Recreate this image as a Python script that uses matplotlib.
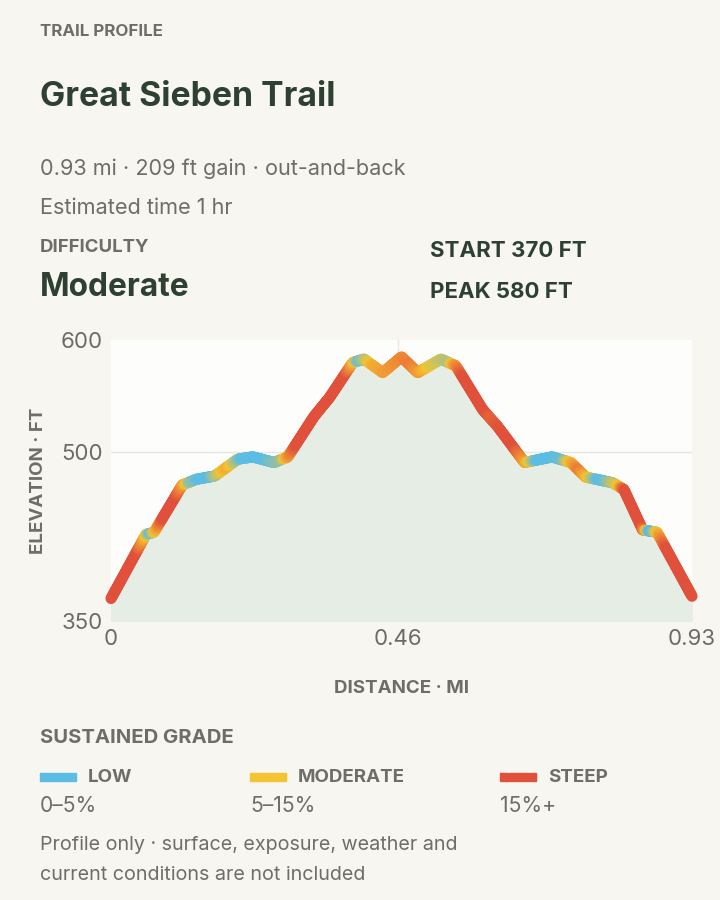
import numpy as np
import matplotlib
matplotlib.use("Agg")
import matplotlib.pyplot as plt
from matplotlib.collections import LineCollection
from matplotlib.colors import LinearSegmentedColormap
from matplotlib.patches import Rectangle

plt.rcParams['font.family'] = ['Inter', 'DejaVu Sans']

dist_mi = [0.0, 0.056, 0.069, 0.114, 0.136, 0.166, 0.203, 0.227, 0.261, 0.283, 0.325,
           0.350, 0.387, 0.405, 0.435, 0.465, 0.491, 0.528, 0.552, 0.595, 0.619, 0.662,
           0.706, 0.736, 0.760, 0.803, 0.821, 0.851, 0.874, 0.93]
elev_ft = [370, 427, 429, 471, 476, 479, 494, 496, 491, 496, 532,
           549, 580, 583, 571, 585, 571, 583, 577, 538, 523, 491,
           496, 491, 478, 473, 467, 431, 429, 372]
yticks = [350, 500, 600]
xticks = [0, 0.46, 0.93]
xtick_labels = ["0", "0.46", "0.93"]
legend_names = ["LOW", "MODERATE", "STEEP"]
legend_ranges = ["0–5%", "5–15%", "15%+"]
legend_colors = ["#5bbde3", "#f4c430", "#e0503a"]

BG = "#f7f6f1"
DARK = "#2d4031"
GRAY = "#6e6e68"

fig = plt.figure(figsize=(7.2, 9), dpi=100, facecolor=BG)

def T(x, y, s, **kw):
    fig.text(x / 720, 1 - y / 900, s, va="center", ha="left", **kw)

T(40, 31, "TRAIL PROFILE", fontsize=12.2, fontweight="bold", color=GRAY)
T(40, 97, "Great Sieben Trail", fontsize=24.3, fontweight="bold", color=DARK)
T(40, 169, "0.93 mi · 209 ft gain · out-and-back", fontsize=15.6, color=GRAY)
T(40, 208, "Estimated time 1 hr", fontsize=15.6, color=GRAY)
T(40, 248, "DIFFICULTY", fontsize=13.4, fontweight="bold", color=GRAY)
T(40, 288, "Moderate", fontsize=22.8, fontweight="bold", color=DARK)
T(430, 251, "START 370 FT", fontsize=16, fontweight="bold", color=DARK)
T(430, 292, "PEAK 580 FT", fontsize=16, fontweight="bold", color=DARK)

ax = fig.add_axes([111 / 720, 1 - 621 / 900, 581 / 720, 281 / 900])
ax.set_facecolor("#fdfdfb")
x = np.array(dist_mi); y = np.array(elev_ft)
ax.fill_between(x, y, 350, color="#e5ede5", zorder=1)

# colour by grade
xd = np.linspace(0, 0.93, 800)
yd = np.interp(xd, x, y)
seg_grade = np.abs(np.diff(y)) / (np.diff(x) * 5280) * 100
gd = np.interp(xd, (x[:-1] + x[1:]) / 2, seg_grade)
cmap = LinearSegmentedColormap.from_list("g", [(0, legend_colors[0]), (0.15, legend_colors[0]),
                                              (0.45, legend_colors[1]), (0.7, "#ee8a35"),
                                              (1, legend_colors[2])])
pts = np.column_stack([xd, yd]).reshape(-1, 1, 2)
segs = np.concatenate([pts[:-1], pts[1:]], axis=1)
lc = LineCollection(segs, cmap=cmap, norm=plt.Normalize(1, 13), linewidth=8,
                    capstyle="round", joinstyle="round", zorder=3)
lc.set_array(gd[:-1])
lc.set_clip_on(False)
ax.add_collection(lc)

ax.set_xlim(0, 0.93); ax.set_ylim(350, 600)
ax.set_yticks(yticks); ax.set_xticks(xticks); ax.set_xticklabels(xtick_labels)
ax.axhline(500, color="#e6e6e2", lw=1, zorder=0)
ax.axvline(0.46, color="#e6e6e2", lw=1, zorder=0)
for s in ax.spines.values():
    s.set_visible(False)
ax.tick_params(length=0, labelsize=16, colors="#6a6a66", pad=6)
ax.set_xlabel("DISTANCE · MI", fontsize=13.5, fontweight="bold", color=GRAY, labelpad=22)
ax.set_ylabel("ELEVATION · FT", fontsize=13.5, fontweight="bold", color=GRAY, labelpad=10)

T(40, 738, "SUSTAINED GRADE", fontsize=14.6, fontweight="bold", color=GRAY)
for i, (n, r, c) in enumerate(zip(legend_names, legend_ranges, legend_colors)):
    x0 = [40, 250, 500][i]
    fig.patches.append(Rectangle((x0 / 720, 1 - 781 / 900), 36 / 720, 8 / 900,
                                 transform=fig.transFigure, color=c))
    T(x0 + 48, 777, n, fontsize=13.5, fontweight="bold", color=GRAY)
    T(x0, 806, r, fontsize=15.2, color=GRAY)
T(40, 845, "Profile only · surface, exposure, weather and", fontsize=14.2, color=GRAY)
T(40, 875, "current conditions are not included", fontsize=14.2, color=GRAY)

fig.savefig("out.png", dpi=100, facecolor=BG)
